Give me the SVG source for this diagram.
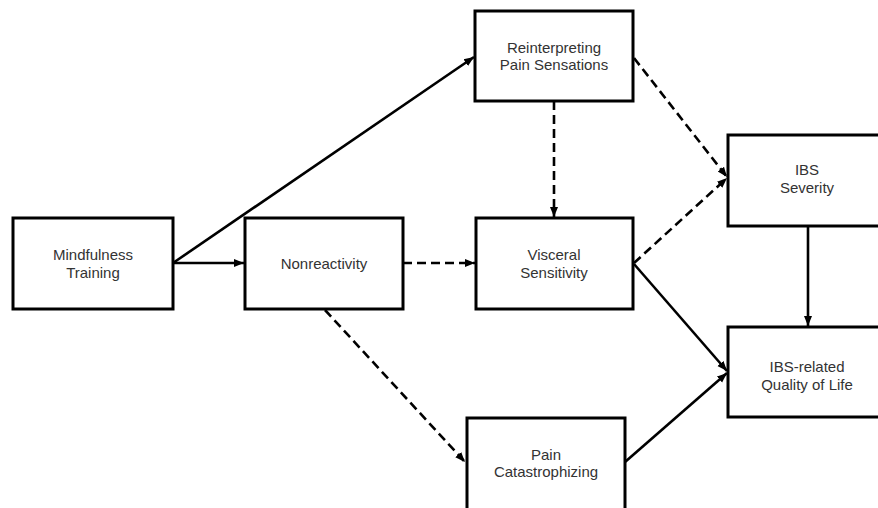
<svg xmlns="http://www.w3.org/2000/svg" width="878" height="508" viewBox="0 0 878 508">
<defs>
<style>
.box{fill:#fff;stroke:#000;stroke-width:3}
.lbl{font-family:"Liberation Sans",Arial,sans-serif;font-size:15px;fill:#333;text-anchor:middle}
.c{fill:none;stroke:#000;stroke-width:2.6}
.d{stroke-dasharray:9 5}
</style>
<marker id="ah" viewBox="0 0 10 10" refX="10" refY="5" markerWidth="10" markerHeight="10" markerUnits="userSpaceOnUse" orient="auto">
<path d="M0,1 L10,5 L0,9 Z" fill="#000"/>
</marker>
</defs>
<rect width="878" height="508" fill="#fff"/>
<g id="connectors">
<line class="c" x1="173" y1="263" x2="474" y2="57" marker-end="url(#ah)"/>
<line class="c" x1="173" y1="263" x2="244" y2="263" marker-end="url(#ah)"/>
<line class="c d" x1="403" y1="263" x2="475" y2="263" marker-end="url(#ah)"/>
<line class="c d" x1="554" y1="101" x2="554" y2="217" marker-end="url(#ah)"/>
<line class="c d" x1="634" y1="58" x2="727" y2="177" marker-end="url(#ah)"/>
<line class="c d" x1="634" y1="263" x2="727" y2="178" marker-end="url(#ah)"/>
<line class="c" x1="634" y1="264" x2="727" y2="371" marker-end="url(#ah)"/>
<line class="c d" x1="325" y1="310" x2="465" y2="462" marker-end="url(#ah)"/>
<line class="c" x1="625" y1="462" x2="727" y2="373" marker-end="url(#ah)"/>
<line class="c" x1="808" y1="226" x2="808" y2="326" marker-end="url(#ah)"/>
</g>
<g id="mindfulness">
<rect class="box" x="13" y="218" width="160" height="91"/>
<text class="lbl" x="93" y="260">Mindfulness</text>
<text class="lbl" x="93" y="278">Training</text>
</g>
<g id="nonreactivity">
<rect class="box" x="245" y="218" width="158" height="91"/>
<text class="lbl" x="324" y="269">Nonreactivity</text>
</g>
<g id="visceral">
<rect class="box" x="476" y="218" width="157" height="91"/>
<text class="lbl" x="554" y="260">Visceral</text>
<text class="lbl" x="554" y="278">Sensitivity</text>
</g>
<g id="reinterpreting">
<rect class="box" x="475" y="11" width="158" height="90"/>
<text class="lbl" x="554" y="53">Reinterpreting</text>
<text class="lbl" x="554" y="70">Pain Sensations</text>
</g>
<g id="ibs-severity">
<rect class="box" x="728" y="135" width="158" height="91"/>
<text class="lbl" x="807" y="175">IBS</text>
<text class="lbl" x="807" y="193">Severity</text>
</g>
<g id="ibs-qol">
<rect class="box" x="728" y="327" width="158" height="90"/>
<text class="lbl" x="807" y="372">IBS-related</text>
<text class="lbl" x="807" y="390">Quality of Life</text>
</g>
<g id="pain-catastrophizing">
<rect class="box" x="467" y="418" width="158" height="94"/>
<text class="lbl" x="546" y="460">Pain</text>
<text class="lbl" x="546" y="477">Catastrophizing</text>
</g>
</svg>
